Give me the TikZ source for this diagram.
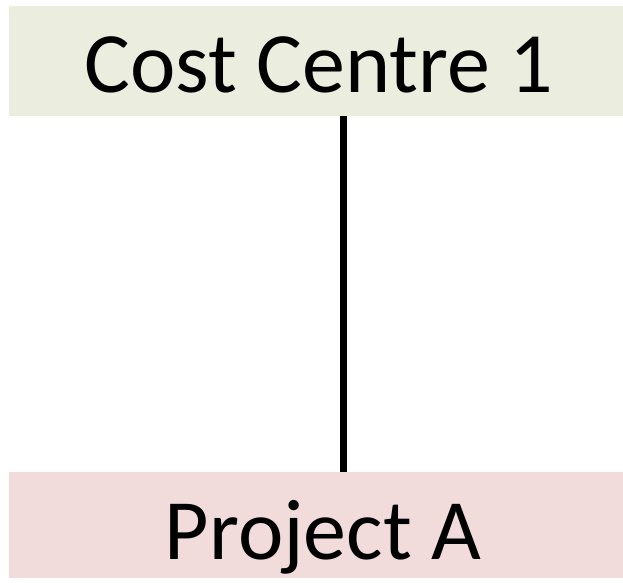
\documentclass[tikz,border=0pt]{standalone}
\usepackage{fontspec}
\setmainfont{Carlito}
\definecolor{boxgreen}{HTML}{EBEEDF}
\definecolor{boxpink}{HTML}{F2DCDB}
\begin{document}
\begin{tikzpicture}[x=1pt,y=1pt,
  box/.style={minimum width=614pt,inner sep=0pt,text depth=0pt,font=\fontsize{86}{100}\selectfont}]
\useasboundingbox (0,0) rectangle (623,582);
\node[box,fill=boxgreen,minimum height=110pt,text height=64pt] (cc) at (316,521) {\hspace*{6pt}Cost Centre 1};
\node[box,fill=boxpink,minimum height=106pt,text height=68pt] (pa) at (316,57) {\hspace*{14pt}Project A};
\draw[line width=7pt] (cc.south -| 343.5,0) -- (pa.north -| 343.5,0);
\end{tikzpicture}
\end{document}
